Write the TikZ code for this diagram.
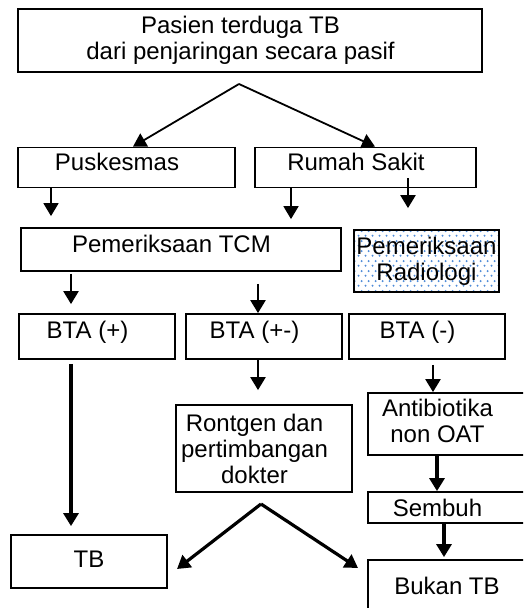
\documentclass[tikz,border=0pt]{standalone}
\usepackage{fontspec}
\setmainfont{Liberation Sans}
\usetikzlibrary{calc,arrows.meta,patterns.meta}
\definecolor{dotblue}{RGB}{80,140,215}

\tikzdeclarepattern{
    name=radiodots,
    type=uncolored,
    bottom left={(0pt,0pt)},
    top right={(7pt,10pt)},
    tile size={(7pt,10pt)},
    code={
        \pgfpathcircle{\pgfpoint{1.75pt}{2.5pt}}{1.2pt}
        \pgfpathcircle{\pgfpoint{5.25pt}{7.5pt}}{1.2pt}
        \pgfusepath{fill}
    }
}

\begin{document}
\begin{tikzpicture}[x=1pt, y=-1pt,
    box/.style={draw=black, line width=1.8pt, inner sep=0pt},
    lbl/.style={font=\fontsize{24}{26}\selectfont, align=center, inner sep=0pt},
    off/.style={xshift=-9.5pt},
    one/.style={lbl, text height=17pt, text depth=5pt, yshift=3pt},
    arr/.style={line width=2.4pt, -{Triangle[width=15pt,length=13pt]}},
    arrthin/.style={arr, line width=1.8pt},
    arrbold/.style={arr, line width=3.2pt}]

    \useasboundingbox (0,0) rectangle (523,608);
    \clip (0,0) rectangle (523,608);

    % first row
    \node[box, minimum width=464, minimum height=63,
        label={[lbl, off]center:{Pasien terduga TB\\dari penjaringan secara pasif}}] (suspect) at (250,40.5) {};
    \node[box, minimum width=217, minimum height=40, label={[one, off]center:Puskesmas}] (pusk) at (126.5,167.5) {};
    \node[box, minimum width=221, minimum height=40, label={[one, off]center:Rumah Sakit}] (hosp) at (365.5,167.5) {};

    % examinations
    \node[box, minimum width=320, minimum height=43, label={[one, off]center:Pemeriksaan TCM}] (tcm) at (181,249.5) {};
    \node[box, minimum width=145, minimum height=62, pattern=radiodots, pattern color=dotblue,
        label={[lbl]center:{Pemeriksaan\\Radiologi}}] (radio) at (426.5,261) {};

    % smear results
    \node[box, minimum width=156, minimum height=45, label={[one, off, yshift=1.5pt]center:BTA (+)}] (btaPos) at (97,336.5) {};
    \node[box, minimum width=156, minimum height=45, label={[one, off, yshift=1.5pt]center:BTA (+-)}] (btaMix) at (264,336.5) {};
    \node[box, minimum width=156, minimum height=45, label={[one, off, yshift=1.5pt]center:BTA (-)}] (btaNeg) at (427,336.5) {};

    % follow up
    \node[box, minimum width=176, minimum height=87,
        label={[lbl, off]center:{Rontgen dan\\pertimbangan\\dokter}}] (xray) at (264,448.5) {};
    \node[box, minimum width=158, minimum height=62,
        label={[lbl, off, yshift=3.5pt]center:{Antibiotika\\non OAT}}] (antib) at (447,424) {};
    \node[box, minimum width=158, minimum height=31, label={[one, off, yshift=-5.5pt]center:Sembuh}] (cured) at (447,507.5) {};

    % outcome
    \node[box, minimum width=156, minimum height=53, label={[one, yshift=-3pt]center:TB}] (tb) at (89,561.5) {};
    \node[box, minimum width=158, minimum height=65, label={[one, yshift=1pt]center:Bukan TB}] (notTb) at (447,592.5) {};

    \coordinate (forkA) at (239,84);
    \coordinate (forkB) at (261,504);
    \coordinate (tipTb) at (177,569);
    \coordinate (tipNotTb) at (358,568);

    \draw[arrthin] (forkA) -- (133,0 |- pusk.north);
    \draw[arrthin] (forkA) -- (375,0 |- hosp.north);

    \draw[arrthin, shorten >=11pt] (51,0 |- pusk.south) -- (51,0 |- tcm.north);
    \draw[arrthin, shorten >=8pt] (291,0 |- hosp.south) -- (291,0 |- tcm.north);
    \draw[arr, shorten <=-10pt, shorten >=21pt] (408,0 |- hosp.south) -- (408,0 |- radio.north);

    \draw[arr, shorten <=2pt, shorten >=9pt] (71,0 |- tcm.south) -- (71,0 |- btaPos.north);
    \draw[arr, shorten <=12pt] (258,0 |- tcm.south) -- (258,0 |- btaMix.north);

    \draw[arrbold, shorten <=4pt, shorten >=8pt] (71,0 |- btaPos.south) -- (71,0 |- tb.north);
    \draw[arr, shorten >=14pt] (258,0 |- btaMix.south) -- (258,0 |- xray.north);
    \draw[arr, shorten <=5pt] (433,0 |- btaNeg.south) -- (433,0 |- antib.north);

    \draw[arrbold] (forkB) -- (tipTb);
    \draw[arrbold] (forkB) -- (tipNotTb);

    \draw[arrbold] (437,0 |- antib.south) -- (437,0 |- cured.north);
    \draw[arrbold, shorten >=2pt] (444,0 |- cured.south) -- (444,0 |- notTb.north);
\end{tikzpicture}
\end{document}
